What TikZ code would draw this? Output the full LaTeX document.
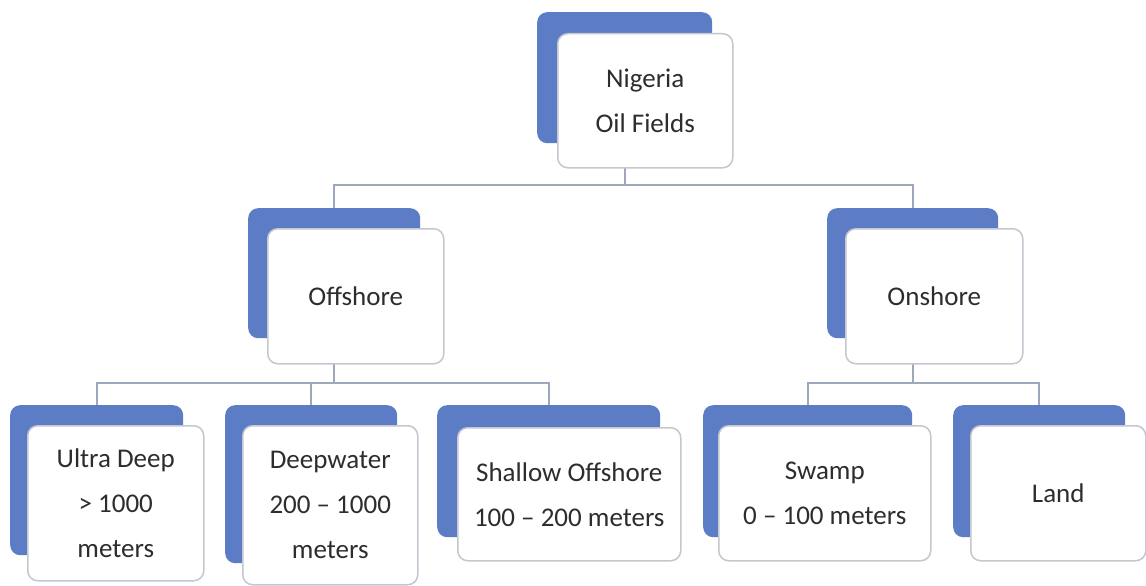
\documentclass[tikz,border=0pt]{standalone}
\usepackage{fontspec}
\setmainfont{Carlito}
\pgfdeclarelayer{background}
\pgfsetlayers{background,main}
\definecolor{boxblue}{RGB}{92,125,198}
\definecolor{boxline}{RGB}{196,199,206}
\definecolor{connline}{RGB}{158,168,188}
\definecolor{txt}{RGB}{45,45,45}
\tikzset{
  bluebox/.style={fill=boxblue, draw=none, rounded corners=10pt, anchor=north west, inner sep=0pt},
  whitebox/.style={fill=white, draw=boxline, line width=1.5pt, rounded corners=10pt, anchor=north west,
    inner sep=0pt, align=center, text=txt, font=\fontsize{27}{45}\selectfont},
  conn/.style={draw=connline, line width=2pt}
}
\begin{document}
\begin{tikzpicture}[x=1pt,y=-1pt]
\useasboundingbox (0,0) rectangle (1146,586);
% top
\node[bluebox, minimum width=175pt, minimum height=131pt] (topb) at (537,12) {};
\node[whitebox, minimum width=175pt, minimum height=134pt] (top) at (557,33) {Nigeria\\Oil Fields};
% offshore
\node[bluebox, minimum width=172pt, minimum height=130pt] (offb) at (248,208) {};
\node[whitebox, minimum width=176pt, minimum height=135pt] (off) at (267,228) {Offshore};
% onshore
\node[bluebox, minimum width=171pt, minimum height=130pt] (onb) at (827,208) {};
\node[whitebox, minimum width=177pt, minimum height=135pt] (on) at (845,228) {Onshore};
% ultra deep
\node[bluebox, minimum width=173pt, minimum height=150pt] (udb) at (10,405) {};
\node[whitebox, minimum width=176pt, minimum height=155pt] (ud) at (27,425) {Ultra Deep\\> 1000\\meters};
% deepwater
\node[bluebox, minimum width=172pt, minimum height=158pt] (dwb) at (225,405) {};
\node[whitebox, minimum width=175pt, minimum height=159pt] (dw) at (242,425) {Deepwater\\200 – 1000\\meters};
% shallow
\node[bluebox, minimum width=223pt, minimum height=132pt] (shb) at (437,405) {};
\node[whitebox, minimum width=223pt, minimum height=133pt] (sh) at (457,427) {Shallow Offshore\\100 – 200 meters};
% swamp
\node[bluebox, minimum width=209pt, minimum height=132pt] (swb) at (703,405) {};
\node[whitebox, minimum width=212pt, minimum height=135pt] (sw) at (718,425) {Swamp\\0 – 100 meters};
% land
\node[bluebox, minimum width=172pt, minimum height=132pt] (lab) at (953,405) {};
\node[whitebox, minimum width=175pt, minimum height=135pt] (la) at (970,425) {Land};
% connectors
\coordinate (y1) at (0,185);
\coordinate (y2) at (0,383);
\begin{pgfonlayer}{background}
\fill[white] (0,0) rectangle (1146,586);
\draw[conn] (topb.south) -- (topb.south |- y1);
\draw[conn] (offb.north) |- (topb.south |- y1) -| (onb.north);
\draw[conn] (offb.south) -- (offb.south |- y2);
\draw[conn] (udb.north) |- (offb.south |- y2) -| (shb.north);
\draw[conn] (dwb.north) -- (dwb.north |- y2);
\draw[conn] (onb.south) -- (onb.south |- y2);
\draw[conn] (swb.north) |- (onb.south |- y2) -| (lab.north);
\end{pgfonlayer}
\end{tikzpicture}
\end{document}
